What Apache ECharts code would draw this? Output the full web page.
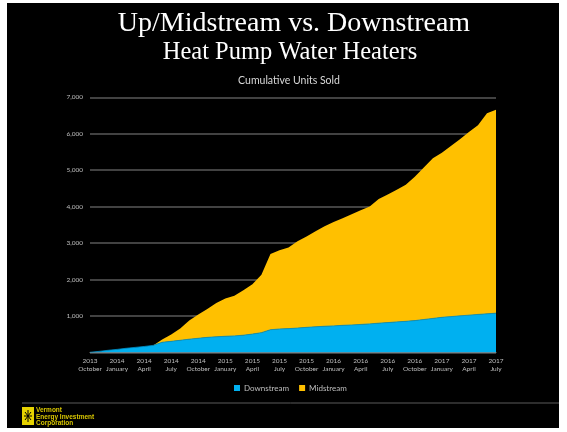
<!DOCTYPE html>
<html><head><meta charset="utf-8">
<script src="https://cdn.jsdelivr.net/npm/echarts@6/dist/echarts.min.js"></script>
<style>html,body{margin:0;padding:0;background:#fff}#c{width:567px;height:432px}</style>
</head><body><div id="c"></div>
<script>
var months = [
 '2013 October','2013 November','2013 December',
 '2014 January','2014 February','2014 March','2014 April','2014 May','2014 June',
 '2014 July','2014 August','2014 September','2014 October','2014 November','2014 December',
 '2015 January','2015 February','2015 March','2015 April','2015 May','2015 June',
 '2015 July','2015 August','2015 September','2015 October','2015 November','2015 December',
 '2016 January','2016 February','2016 March','2016 April','2016 May','2016 June',
 '2016 July','2016 August','2016 September','2016 October','2016 November','2016 December',
 '2017 January','2017 February','2017 March','2017 April','2017 May','2017 June','2017 July'];
var downstream = [0,25,55,80,110,135,160,190,275,300,330,360,385,410,425,440,450,470,500,540,620,640,650,665,685,700,715,725,740,750,765,780,800,815,835,850,870,900,930,960,980,1000,1020,1040,1055,1075];
var midstream = [0,0,0,0,0,0,0,0,75,190,320,510,655,780,925,1040,1100,1230,1370,1590,2080,2160,2230,2385,2495,2620,2745,2855,2940,3040,3135,3220,3410,3515,3625,3750,3950,4170,4400,4520,4680,4850,5030,5190,5505,5585];
var yTicks = [0,1000,2000,3000,4000,5000,6000,7000];
var titleText = 'Up/Midstream vs. Downstream';
var subtitleText = 'Heat Pump Water Heaters';
var chartTitle = 'Cumulative Units Sold';
var seriesNames = ['Downstream','Midstream'];
var logoText = 'Vermont\nEnergy Investment\nCorporation';

var chart = echarts.init(document.getElementById('c'), null, {renderer:'canvas'});
chart.setOption({
  backgroundColor:'#fff',
  animation:false,
  graphic:[
    {type:'rect',z:-10,silent:true,shape:{x:7,y:3,width:552,height:425},style:{fill:'#000'}},
    {type:'text',x:294,y:10,style:{text:titleText,fill:'#fff',font:'28px "Liberation Serif"',textAlign:'center',textVerticalAlign:'top'}},
    {type:'text',x:290,y:40,style:{text:subtitleText,fill:'#fff',font:'24.5px "Liberation Serif"',textAlign:'center',textVerticalAlign:'top'}},
    {type:'text',x:289,y:75,style:{text:chartTitle,fill:'#d9d9d9',font:'10.5px Lato',textAlign:'center',textVerticalAlign:'top'}},
    {type:'line',shape:{x1:22,y1:403,x2:559,y2:403},style:{stroke:'#5a5a5a',lineWidth:1}},
    {type:'rect',shape:{x:22,y:407,width:12,height:18},style:{fill:'#e6d200'}},
    {type:'line',shape:{x1:28,y1:410,x2:28,y2:422},style:{stroke:'#000',lineWidth:1}},
    {type:'line',shape:{x1:24,y1:416,x2:32,y2:416},style:{stroke:'#000',lineWidth:1}},
    {type:'line',shape:{x1:25,y1:412,x2:31,y2:420},style:{stroke:'#000',lineWidth:1}},
    {type:'line',shape:{x1:31,y1:412,x2:25,y2:420},style:{stroke:'#000',lineWidth:1}},
    {type:'text',x:36,y:407,style:{text:logoText,fill:'#d8c600',font:'bold 6.5px "Liberation Sans"',lineHeight:6.5}}
  ],
  legend:{
    data:seriesNames,top:379,left:229,itemWidth:6,itemHeight:6,itemGap:10,icon:'rect',
    textStyle:{color:'#bfbfbf',fontSize:8,fontFamily:'Lato',padding:[0,0,0,-1]}
  },
  grid:{left:90,right:71,top:97.3,bottom:79.7,containLabel:false},
  xAxis:{
    type:'category',boundaryGap:false,data:months,
    axisLine:{show:true,lineStyle:{color:'#7f7f7f',width:1}},
    axisTick:{show:false},
    axisLabel:{interval:2,color:'#bfbfbf',fontSize:6.5,fontFamily:'Lato',lineHeight:8,margin:5,
      formatter:function(v){var p=v.split(' ');return p[0]+'\n'+p[1];}}
  },
  yAxis:{
    type:'value',min:yTicks[0],max:yTicks[yTicks.length-1],interval:1000,
    axisLine:{show:false},axisTick:{show:false},
    splitLine:{show:true,lineStyle:{color:'#595959',width:1.5}},
    axisLabel:{color:'#bfbfbf',fontSize:6.5,fontFamily:'Lato',margin:7,
      formatter:function(v){return v===0?'':v.toLocaleString('en-US');}}
  },
  series:[
    {name:seriesNames[0],type:'line',stack:'total',data:downstream,symbol:'none',
     lineStyle:{width:0.8,color:'#0090c8'},itemStyle:{color:'#00b0f0'},areaStyle:{color:'#00b0f0',opacity:1}},
    {name:seriesNames[1],type:'line',stack:'total',data:midstream,symbol:'none',
     lineStyle:{width:0},itemStyle:{color:'#ffc000'},areaStyle:{color:'#ffc000',opacity:1}}
  ]
});
</script></body></html>
